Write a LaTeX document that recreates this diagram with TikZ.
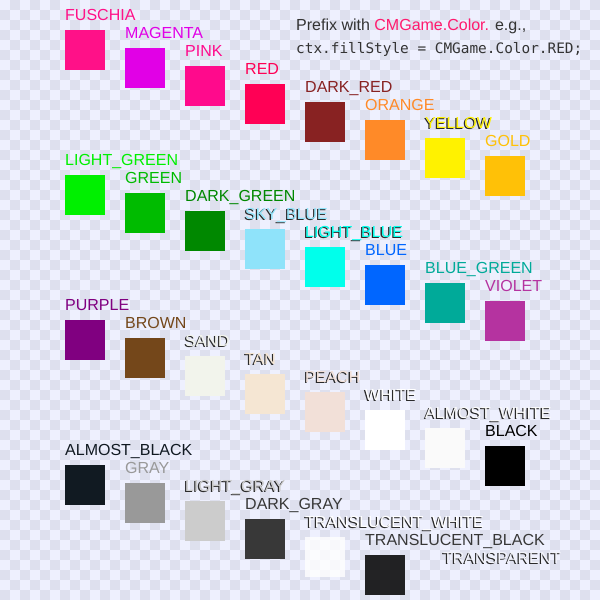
\documentclass[tikz,border=0pt]{standalone}
\usepackage{fontspec}
\setmainfont{Liberation Sans}
\setmonofont{DejaVu Sans Mono}
\usepackage{xcolor}
\usetikzlibrary{positioning}

\definecolor{bglight}{HTML}{EEF0FE}
\definecolor{bgdark}{HTML}{DEE0EE}
\definecolor{shadowc}{HTML}{2A2A2A}
\definecolor{headc}{HTML}{333333}
\definecolor{prefixc}{HTML}{FF1A6E}

\definecolor{cfuschia}{HTML}{FF1188}
\definecolor{cmagenta}{HTML}{E100E6}
\definecolor{cpink}{HTML}{FF0A8C}
\definecolor{cred}{HTML}{FF0055}
\definecolor{cdarkred}{HTML}{882222}
\definecolor{corange}{HTML}{FF8A28}
\definecolor{cyellow}{HTML}{FFF200}
\definecolor{cgold}{HTML}{FFC107}
\definecolor{clightgreen}{HTML}{00F000}
\definecolor{cgreen}{HTML}{00BB00}
\definecolor{cdarkgreen}{HTML}{008800}
\definecolor{cskyblue}{HTML}{8FE3FA}
\definecolor{clightblue}{HTML}{00FFEB}
\definecolor{cblue}{HTML}{0066FF}
\definecolor{cbluegreen}{HTML}{00AA99}
\definecolor{cviolet}{HTML}{B533A0}
\definecolor{cpurple}{HTML}{800080}
\definecolor{cbrown}{HTML}{74471A}
\definecolor{csand}{HTML}{F2F4EC}
\definecolor{ctan}{HTML}{F5E6D3}
\definecolor{cpeach}{HTML}{F2E0D8}
\definecolor{cwhite}{HTML}{FFFFFF}
\definecolor{calmostwhite}{HTML}{FAFAFA}
\definecolor{cblack}{HTML}{000000}
\definecolor{calmostblack}{HTML}{111A22}
\definecolor{cgray}{HTML}{999999}
\definecolor{clightgray}{HTML}{CCCCCC}
\definecolor{cdarkgray}{HTML}{383838}
\definecolor{ctransp}{HTML}{F2F3FA}

% label text with a small dark drop shadow
\newcommand{\shadowed}[2]{\makebox[0pt][l]{\hspace*{-1.3pt}\raisebox{-1.3pt}{\textcolor{shadowc}{#2}}}\textcolor{#1}{#2}}

\begin{document}
\begin{tikzpicture}[
    x=1pt, y=-1pt,
    swatch/.style={
        anchor=north west,
        minimum size=40pt,
        inner sep=0pt,
        outer sep=0pt
    },
    lbl/.style={
        anchor=base west,
        inner sep=0pt,
        font=\fontsize{16}{19}\selectfont
    }
]

\useasboundingbox (0,0) rectangle (600,600);

% checkered backdrop
\fill[bglight] (0,0) rectangle (600,600);
\foreach \i in {0,...,59}{
  \foreach \j in {0,...,29}{
    \pgfmathtruncatemacro{\yy}{20*\j+10*(1-mod(\i,2))}
    \fill[bgdark] (\i*10,\yy) rectangle ++(10,10);
  }
}

\node[lbl, text=headc] (prefix) at (296,30)
    {Prefix with \textcolor{prefixc}{CMGame.Color.} e.g.,};
\node[lbl, text=headc, font=\ttfamily\fontsize{14.4}{17}\selectfont] (sample) at (296,53)
    {ctx.fillStyle = CMGame.Color.RED;};

% row 1
\node[swatch, fill=cfuschia] (fuschia) at (65,30) {};
\node[swatch, fill=cmagenta] (magenta) at (125,48) {};
\node[swatch, fill=cpink] (pink) at (185,66) {};
\node[swatch, fill=cred] (red) at (245,84) {};
\node[swatch, fill=cdarkred] (darkred) at (305,102) {};
\node[swatch, fill=corange] (orange) at (365,120) {};
\node[swatch, fill=cyellow] (yellow) at (425,138) {};
\node[swatch, fill=cgold] (gold) at (485,156) {};

\node[lbl, text=cfuschia] at ([yshift=10pt]fuschia.north west) {FUSCHIA};
\node[lbl, text=cmagenta] at ([yshift=10pt]magenta.north west) {MAGENTA};
\node[lbl, text=cpink] at ([yshift=10pt]pink.north west) {PINK};
\node[lbl, text=cred] at ([yshift=10pt]red.north west) {RED};
\node[lbl, text=cdarkred] at ([yshift=10pt]darkred.north west) {DARK\_RED};
\node[lbl, text=corange] at ([yshift=10pt]orange.north west) {ORANGE};
\node[lbl] at ([yshift=10pt]yellow.north west) {\shadowed{cyellow}{YELLOW}};
\node[lbl, text=cgold] at ([yshift=10pt]gold.north west) {GOLD};

% row 2
\node[swatch, fill=clightgreen] (lightgreen) at (65,175) {};
\node[swatch, fill=cgreen] (green) at (125,193) {};
\node[swatch, fill=cdarkgreen] (darkgreen) at (185,211) {};
\node[swatch, fill=cskyblue] (skyblue) at (245,229) {};
\node[swatch, fill=clightblue] (lightblue) at (305,247) {};
\node[swatch, fill=cblue] (blue) at (365,265) {};
\node[swatch, fill=cbluegreen] (bluegreen) at (425,283) {};
\node[swatch, fill=cviolet] (violet) at (485,301) {};

\node[lbl, text=clightgreen] at ([yshift=10pt]lightgreen.north west) {LIGHT\_GREEN};
\node[lbl, text=cgreen] at ([yshift=10pt]green.north west) {GREEN};
\node[lbl, text=cdarkgreen] at ([yshift=10pt]darkgreen.north west) {DARK\_GREEN};
\node[lbl] at ([yshift=10pt]skyblue.north west) {\shadowed{cskyblue}{SKY\_BLUE}};
\node[lbl] at ([yshift=10pt]lightblue.north west) {\shadowed{clightblue}{LIGHT\_BLUE}};
\node[lbl, text=cblue] at ([yshift=10pt]blue.north west) {BLUE};
\node[lbl, text=cbluegreen] at ([yshift=10pt]bluegreen.north west) {BLUE\_GREEN};
\node[lbl, text=cviolet] at ([yshift=10pt]violet.north west) {VIOLET};

% row 3
\node[swatch, fill=cpurple] (purple) at (65,320) {};
\node[swatch, fill=cbrown] (brown) at (125,338) {};
\node[swatch, fill=csand] (sand) at (185,356) {};
\node[swatch, fill=ctan] (tan) at (245,374) {};
\node[swatch, fill=cpeach] (peach) at (305,392) {};
\node[swatch, fill=cwhite] (white) at (365,410) {};
\node[swatch, fill=calmostwhite] (almostwhite) at (425,428) {};
\node[swatch, fill=cblack] (black) at (485,446) {};

\node[lbl, text=cpurple] at ([yshift=10pt]purple.north west) {PURPLE};
\node[lbl, text=cbrown] at ([yshift=10pt]brown.north west) {BROWN};
\node[lbl] at ([yshift=10pt]sand.north west) {\shadowed{csand}{SAND}};
\node[lbl] at ([yshift=10pt]tan.north west) {\shadowed{ctan}{TAN}};
\node[lbl] at ([yshift=10pt]peach.north west) {\shadowed{cpeach}{PEACH}};
\node[lbl] at ([yshift=10pt]white.north west) {\shadowed{cwhite}{WHITE}};
\node[lbl] at ([yshift=10pt]almostwhite.north west) {\shadowed{calmostwhite}{ALMOST\_WHITE}};
\node[lbl, text=cblack] at ([yshift=10pt]black.north west) {BLACK};

% row 4
\node[swatch, fill=calmostblack] (almostblack) at (65,465) {};
\node[swatch, fill=cgray] (gray) at (125,483) {};
\node[swatch, fill=clightgray] (lightgray) at (185,501) {};
\node[swatch, fill=cdarkgray] (darkgray) at (245,519) {};
\node[swatch, fill=white, fill opacity=0.8] (transwhite) at (305,537) {};
\node[swatch, fill=black, fill opacity=0.85] (transblack) at (365,555) {};
\coordinate (transparent) at (443,573);

\node[lbl, text=calmostblack] at ([yshift=10pt]almostblack.north west) {ALMOST\_BLACK};
\node[lbl, text=cgray] at ([yshift=10pt]gray.north west) {GRAY};
\node[lbl] at ([yshift=10pt]lightgray.north west) {\shadowed{clightgray}{LIGHT\_GRAY}};
\node[lbl, text=cdarkgray] at ([yshift=10pt]darkgray.north west) {DARK\_GRAY};
\node[lbl] at ([yshift=10pt]transwhite.north west) {\shadowed{cwhite}{TRANSLUCENT\_WHITE}};
\node[lbl, text=cdarkgray] at ([yshift=10pt]transblack.north west) {TRANSLUCENT\_BLACK};
\node[lbl] at ([yshift=10pt]transparent) {\shadowed{ctransp}{TRANSPARENT}};

\end{tikzpicture}
\end{document}
